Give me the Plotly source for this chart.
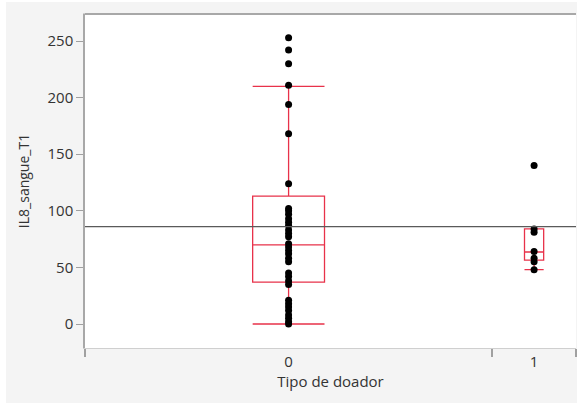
import plotly.graph_objects as go

# ---- data ----
categories = ["0", "1"]
group0_values = [0, 2, 5, 8, 12, 15, 18, 21, 35, 38, 42, 45, 55, 58, 62, 65, 68, 71,
                 77, 80, 83, 87, 90, 93, 97, 100, 102, 124, 168, 194, 211, 230, 242, 253]
group1_values = [48, 55, 58, 64, 81, 84, 140]
# box statistics
box_q1 = [37, 56.5]
box_median = [70, 63.6]
box_q3 = [113, 84]
box_lower = [0, 48]
box_upper = [210, 84]
grand_mean = 86
y_tickvals = [0, 50, 100, 150, 200, 250]

groups = [group0_values, group1_values]
ns = [len(g) for g in groups]
edges = [0, ns[0], ns[0] + ns[1]]
centers = [(edges[i] + edges[i + 1]) / 2 for i in range(2)]
box_widths = [6, 1.6]

RED = "#e8324a"
fig = go.Figure()

for i in range(2):
    fig.add_trace(go.Box(
        x=[centers[i]], q1=[box_q1[i]], median=[box_median[i]], q3=[box_q3[i]],
        lowerfence=[box_lower[i]], upperfence=[box_upper[i]],
        width=box_widths[i], whiskerwidth=1, boxpoints=False,
        fillcolor="rgba(0,0,0,0)", line=dict(color=RED, width=1.3),
        showlegend=False, hoverinfo="skip"))

for i in range(2):
    fig.add_trace(go.Scatter(
        x=[centers[i]] * ns[i], y=groups[i], mode="markers",
        marker=dict(color="black", size=7), showlegend=False))

fig.add_trace(go.Scatter(
    x=[edges[0], edges[-1]], y=[grand_mean, grand_mean], mode="lines",
    line=dict(color="#5a5a5a", width=1.2), showlegend=False))

GRAY_BG = "#f4f4f4"
fig.update_layout(
    width=577, height=406,
    margin=dict(l=85, r=1, t=14, b=58),
    paper_bgcolor=GRAY_BG, plot_bgcolor="white",
    font=dict(family="Open Sans", size=15, color="#222"),
    xaxis=dict(
        range=[edges[0], edges[-1]], tickvals=centers, ticktext=categories,
        ticks="", showgrid=False, zeroline=False,
        showline=True, linecolor="#cfcfcf", linewidth=1, mirror=True,
        minor=dict(tickvals=edges, ticks="outside", ticklen=8, tickcolor="#a0a0a0", tickwidth=1.5),
        title=dict(text="Tipo de doador", font=dict(size=15, color="#333"), standoff=2),
        tickfont=dict(size=15, color="#333"),
    ),
    yaxis=dict(
        range=[-21.2, 273.9], tickvals=y_tickvals, ticks="outside", ticklen=7,
        tickcolor="#a0a0a0", showgrid=False, zeroline=False,
        showline=True, linecolor="#a8a8a8", linewidth=1.5,
        title=dict(text="IL8_sangue_T1", font=dict(size=14, color="#333"), standoff=15),
        tickfont=dict(size=15, color="#333"),
    ),
    shapes=[
        dict(type="rect", xref="paper", yref="paper", x0=-0.2, x1=(6 - 85) / 491,
             y0=-0.3, y1=1.1, fillcolor="white", line=dict(width=0), layer="above"),
        dict(type="rect", xref="paper", yref="paper", x0=-0.2, x1=1.1,
             y0=(348 - 2) / 334, y1=1.1, fillcolor="white", line=dict(width=0), layer="above"),
        dict(type="rect", xref="paper", yref="paper", x0=-0.2, x1=1.1,
             y0=-0.3, y1=(348 - 403) / 334, fillcolor="white", line=dict(width=0), layer="above"),
        dict(type="line", xref="paper", yref="paper", x0=0, x1=1, y0=1, y1=1,
             line=dict(color="#a8a8a8", width=2)),
    ],
)

fig.write_html("out.html")
